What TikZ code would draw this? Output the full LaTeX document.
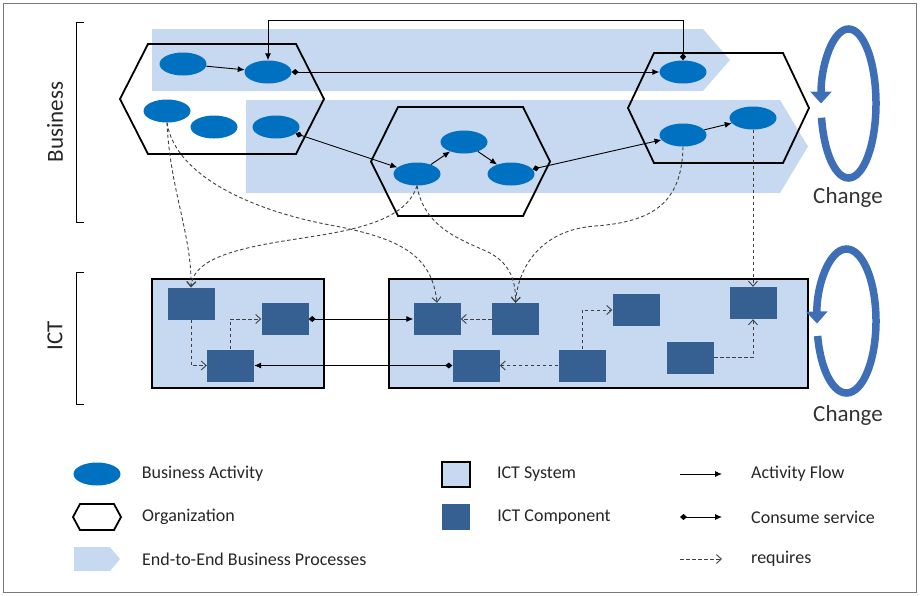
\documentclass[tikz,border=0pt]{standalone}
\usepackage{fontspec}
\setmainfont{Carlito}
\usepackage{tikz}
\usetikzlibrary{arrows.meta,positioning,shapes.geometric}

\definecolor{bandblue}{RGB}{198,217,240}
\definecolor{sysblue}{RGB}{198,217,241}
\definecolor{actblue}{RGB}{0,112,192}
\definecolor{compblue}{RGB}{54,96,146}
\definecolor{loopblue}{RGB}{62,110,182}
\definecolor{framegray}{RGB}{120,120,120}

% hexagon: centre x, centre y, half width, half height, slant
\newcommand{\orghex}[5]{%
  \draw[orgline] ({#1-#3+#5},{#2-#4}) -- ({#1+#3-#5},{#2-#4}) -- ({#1+#3},#2)
    -- ({#1+#3-#5},{#2+#4}) -- ({#1-#3+#5},{#2+#4}) -- ({#1-#3},#2) -- cycle;}
% process band: left, body end, tip, top, bottom
\newcommand{\process}[5]{%
  \fill[bandblue] (#1,#4) -- (#2,#4) -- (#3,{(#4+#5)/2}) -- (#2,#5) -- (#1,#5) -- cycle;}

\begin{document}
\begin{tikzpicture}[x=1pt,y=-1pt,
activity/.style={ellipse, fill=actblue, minimum width=47pt, minimum height=23pt, inner sep=0pt},
comp/.style={rectangle, fill=compblue, minimum width=47pt, minimum height=32pt, inner sep=0pt},
ictsys/.style={rectangle, draw=black, line width=1.6pt, fill=sysblue, inner sep=0pt},
orgline/.style={draw=black, line width=1.8pt},
flow/.style={-{Latex[length=7pt,width=6pt]}, line width=0.9pt},
consume/.style={{Diamond[length=7pt,width=6pt]}-{Latex[length=7pt,width=6pt]}, line width=0.9pt},
reqarrow/.style={-{Straight Barb[length=5pt,width=9pt]}, dash pattern=on 3.5pt off 2.5pt, line width=0.9pt, draw=black!75},
layer/.style={font=\fontsize{23}{26}\selectfont, rotate=90, text=black!85},
keytext/.style={font=\fontsize{18}{20}\selectfont, anchor=west, inner sep=0pt, text=black!85},
changeloop/.style={line width=7.5pt, draw=loopblue, -{Triangle[width=21pt,length=12pt]}},
changetext/.style={font=\fontsize{23}{26}\selectfont, text=black!80}
]
\useasboundingbox (0,0) rectangle (920,595);
\draw[framegray, line width=0.8pt] (3,3) rectangle (916,592);

\node[layer] (business) at (55,122) {Business};
\node[layer] (ict) at (55,336) {ICT};
\draw[line width=0.8pt] (84,22) -- (76,22) -- (76,222) -- (84,222);
\draw[line width=0.8pt] (84,272) -- (76,272) -- (76,404) -- (84,404);

\process{152}{703}{730}{29}{91}
\process{246}{780}{808}{100}{193}

\orghex{222}{99}{102}{55}{28}
\orghex{460.5}{161.5}{89.5}{54.5}{27}
\orghex{718.5}{108}{90.5}{55}{26}

\node[activity] (a1) at (183,64) {};
\node[activity] (a2) at (268,72) {};
\node[activity] (a3) at (167,111) {};
\node[activity] (a4) at (214,127) {};
\node[activity] (a5) at (276,127) {};
\node[activity] (b1) at (417,174) {};
\node[activity] (b2) at (464,142) {};
\node[activity] (b3) at (511,174) {};
\node[activity] (c1) at (683,72) {};
\node[activity] (c2) at (683,135) {};
\node[activity] (c3) at (753,118) {};

\node[ictsys, minimum width=172pt, minimum height=109pt] (sysl) at (238,333.5) {};
\node[ictsys, minimum width=419pt, minimum height=109pt] (sysr) at (598.5,333.5) {};

\node[comp] (d1) at (191,303.5) {};
\node[comp] (d2) at (285,319) {};
\node[comp] (d3) at (230.5,365.5) {};
\node[comp] (e1) at (437,319) {};
\node[comp] (e2) at (515.5,319) {};
\node[comp] (e3) at (476,365.5) {};
\node[comp] (e4) at (582,365.5) {};
\node[comp] (e5) at (636,310) {};
\node[comp] (e6) at (753,303) {};
\node[comp] (e7) at (690.5,357.5) {};

\draw[flow] (a1) -- (a2);
\draw[consume] (a2.east) -- (c1.west);
\coordinate (topline) at (476,20);
\draw[consume] (c1.north) -- (c1.north |- topline) -| (a2.north);
\draw[consume] (a5) -- (b1);
\draw[flow] (b1) -- (b2);
\draw[flow] (b2) -- (b3);
\draw[consume] (b3) -- (c2);
\draw[flow] (c2) -- (c3);

\draw[reqarrow] (a3.south) .. controls (170,190) and (192,235) .. (d1.north);
\draw[reqarrow] (a3.south) .. controls (175,175) and (250,210) .. (330,225)
  .. controls (400,238) and (432,255) .. (e1.north);
\draw[reqarrow] (b1.south) .. controls (405,225) and (340,232) .. (290,240)
  .. controls (225,250) and (193,262) .. (d1.north);
\draw[reqarrow] (b1.south) .. controls (424,228) and (462,240) .. (488,252)
  .. controls (508,262) and (516,278) .. (e2.north);
\draw[reqarrow] (c2.south) .. controls (682,205) and (650,222) .. (595,226)
  .. controls (540,230) and (518,268) .. (e2.north);
\draw[reqarrow] (c3.south) -- (e6.north);

\draw[consume] (d2.east) -- (e1.west);
\draw[consume] (e3.west) -- (d3.east);
\draw[reqarrow] (d1.south) |- (d3.west);
\draw[reqarrow] (d3.north) |- (d2.west);
\draw[reqarrow] (e2.west) -- (e1.east);
\draw[reqarrow] (e4.west) -- (e3.east);
\draw[reqarrow] (e4.north) |- (e5.west);
\draw[reqarrow] (e7.east) -| (e6.south);

\draw[changeloop] (848.5,103.5) ++(169:27.5 and 74.5)
  arc[start angle=169, end angle=-180, x radius=27.5, y radius=74.5];
\draw[changeloop] (846.5,321) ++(168:29.5 and 72)
  arc[start angle=168, end angle=-182, x radius=29.5, y radius=72];
\node[changetext] (chg1) at (848,197) {Change};
\node[changetext] (chg2) at (848,415) {Change};

\node[activity] (keyact) at (97,474) {};
\node[keytext, right=21pt of keyact] (keyacttxt) {Business Activity};
\orghex{97}{517}{24}{13}{7}
\node[keytext] (keyorgtxt) at (142,517) {Organization};
\process{74}{110}{120}{547}{571}
\node[keytext] (keyproctxt) at (142,559) {End-to-End Business Processes};

\node[ictsys, minimum width=28pt, minimum height=25pt] (keysys) at (456,474.5) {};
\node[keytext, right=26pt of keysys] (keysystxt) {ICT System};
\node[comp, minimum width=28pt, minimum height=26pt] (keycomp) at (456,517) {};
\node[keytext, right=27pt of keycomp] (keycomptxt) {ICT Component};

\coordinate (keyflowa) at (680,474);
\coordinate (keyflowb) at (722,474);
\draw[flow] (keyflowa) -- (keyflowb);
\node[keytext, right=29pt of keyflowb] (keyflowtxt) {Activity Flow};
\coordinate (keyconsa) at (680,517);
\coordinate (keyconsb) at (722,517);
\draw[consume] (keyconsa) -- (keyconsb);
\node[keytext, right=29pt of keyconsb] (keyconstxt) {Consume service};
\coordinate (keyreqa) at (680,559);
\coordinate (keyreqb) at (722,559);
\draw[reqarrow] (keyreqa) -- (keyreqb);
\node[keytext, right=29pt of keyreqb] (keyreqtxt) {requires};
\end{tikzpicture}
\end{document}
